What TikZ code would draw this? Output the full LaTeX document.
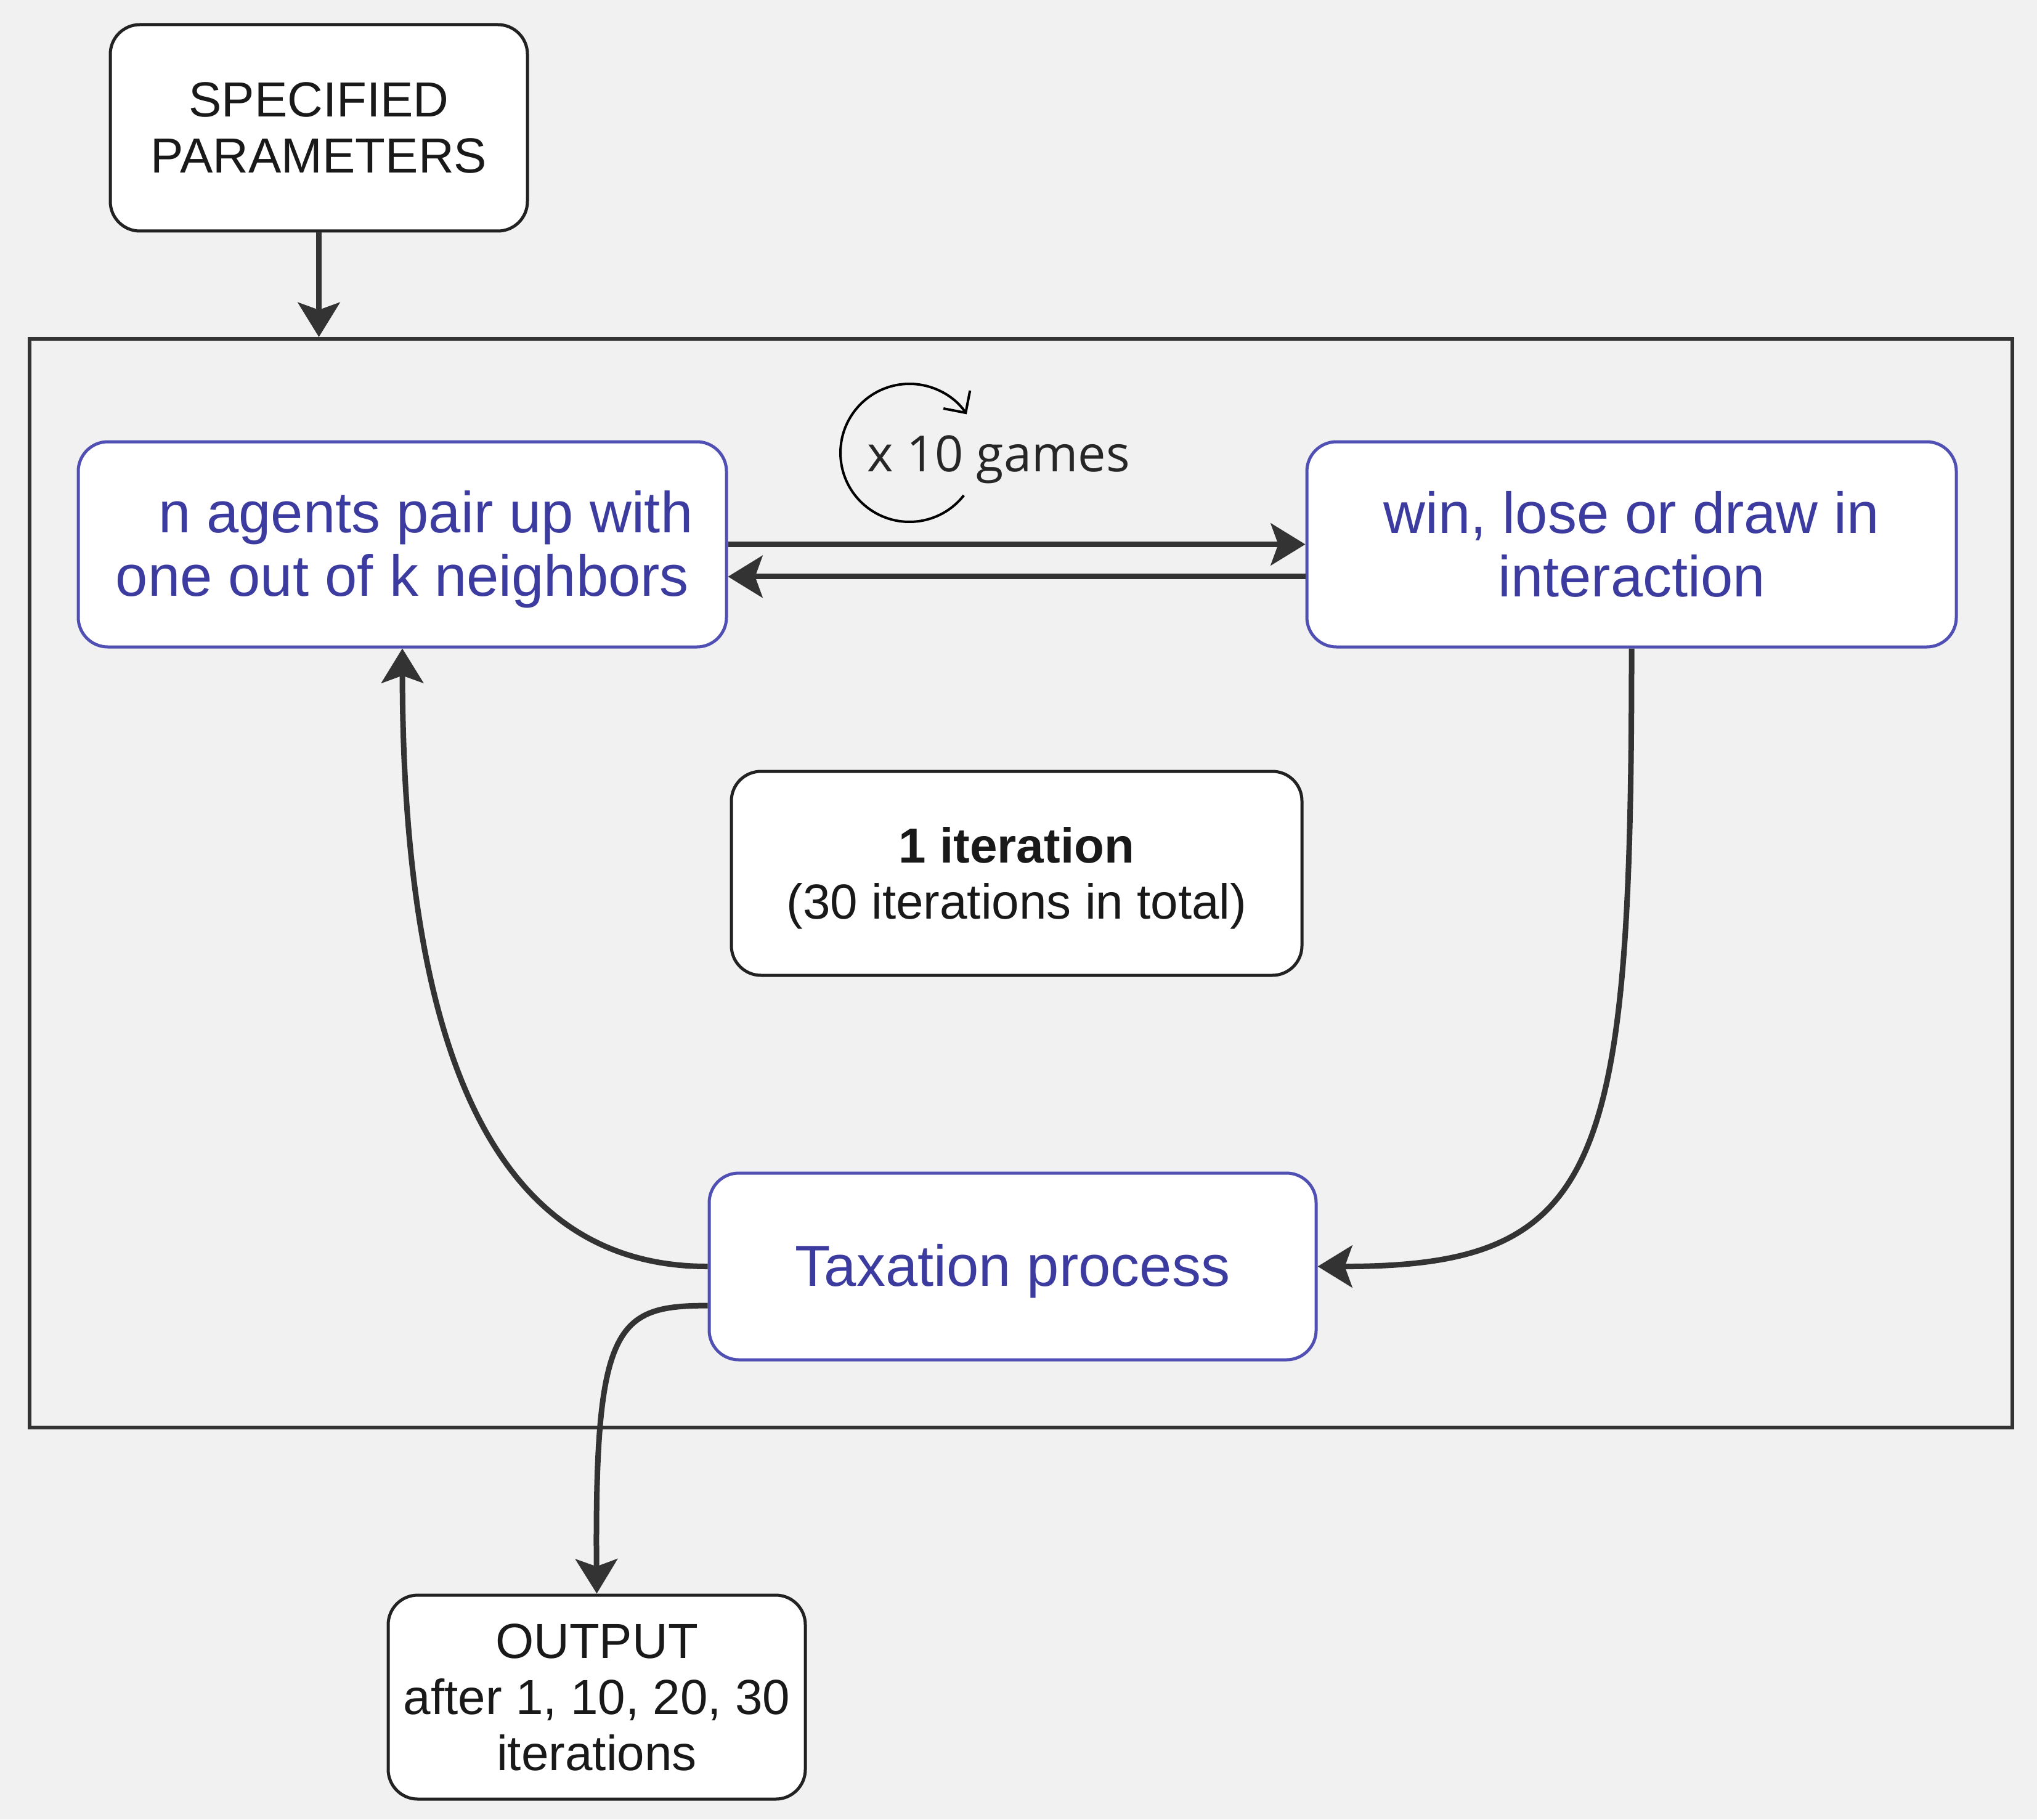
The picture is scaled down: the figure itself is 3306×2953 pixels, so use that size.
\documentclass[tikz,border=0pt]{standalone}
\usepackage{fontspec}
\setmainfont{Liberation Sans}
\newfontfamily\opensans{Open Sans}
\usetikzlibrary{arrows.meta}
\definecolor{bgc}{HTML}{F1F1F1}
\definecolor{bluetxt}{HTML}{3C3CA0}
\definecolor{blueln}{HTML}{5050B4}
\definecolor{arrc}{HTML}{333333}
\definecolor{boxln}{HTML}{222222}
\begin{document}
\begin{tikzpicture}[x=0.25pt,y=-0.25pt,
  bluebox/.style={draw=blueln, line width=1.25pt, fill=white, rounded corners=12pt, inner sep=0pt},
  bluetext/.style={inner sep=0pt, text=bluetxt, font=\fontsize{23.5}{25.75}\selectfont},
  blackbox/.style={draw=boxln, line width=1.25pt, fill=white, rounded corners=12pt, inner sep=0pt},
  blacktext/.style={inner sep=0pt, text=black!90, font=\fontsize{20}{22.75}\selectfont, align=center},
  framebox/.style={draw=arrc, line width=1.5pt, inner sep=0pt},
  arr/.style={draw=arrc, line width=2.25pt, -{Stealth[length=14pt,width=17pt,inset=3pt]}},
  loopln/.style={draw=black, line width=1pt, -{Straight Barb[length=6.5pt,width=13pt]}}
]
\fill[bgc] (0,0) rectangle (3306,2953);
\useasboundingbox (0,0) rectangle (3306,2953);

\node[framebox, minimum width=804.5pt, minimum height=441.75pt] (frame) at (1657,1433.5) {};

\node[blackbox, minimum width=169.25pt, minimum height=83.75pt] (spec) at (517.5,207.5) {};
\node[blacktext] (specT) at (spec.center) {SPECIFIED\\PARAMETERS};

\node[bluebox, minimum width=263pt, minimum height=83.25pt] (agents) at (653,883.5) {};
\node[bluetext, align=right] (agentsT) at ([yshift=-2pt]agents.center) {n agents pair up with\hspace*{-1.6pt}\\one out of k neighbors};

\node[bluebox, minimum width=263.5pt, minimum height=83.25pt] (win) at (2648,883.5) {};
\node[bluetext, align=center] (winT) at (win.center) {win, lose or draw in\\interaction};

\node[blackbox, minimum width=231.5pt, minimum height=82.75pt] (iter) at (1650,1417.5) {};
\node[blacktext] (iterT) at ([yshift=-2pt]iter.center) {\textbf{1 iteration}\\(30 iterations in total)};

\node[bluebox, minimum width=246.25pt, minimum height=75.75pt] (tax) at (1643.5,2055.5) {};
\node[bluetext] (taxT) at ([yshift=-2pt]tax.center) {Taxation process};

\node[blackbox, minimum width=169.25pt, minimum height=82.75pt] (out) at (968.5,2754.5) {};
\node[blacktext] (outT) at (out.center) {OUTPUT\\after 1, 10, 20, 30\\iterations};

% loop icon
\coordinate (loopc) at (1476,735);
\draw[loopln] (loopc) ++(38:112) arc[start angle=38, end angle=326, radius=112];
\node[font=\opensans\fontsize{20.25}{24}\selectfont, text=black!85, anchor=base west, inner sep=0pt] (games) at (1407,765) {x 10 games};

% connectors
\draw[arr] (spec.south) -- (spec.south |- frame.north);
\draw[arr] (agents.east) -- (win.west);
\draw[arr] ([yshift=-13.1pt]win.west) -- ([yshift=-13.1pt]agents.east);
\draw[arr] (win.south) .. controls (2648,1900) and (2600,2056) .. (tax.east);
\draw[arr] (tax.west) .. controls (800,2056) and (654,1700) .. (agents.south);
\draw[arr] ([yshift=-15.9pt]tax.west) .. controls (1000,2119) and (965,2150) .. (out.north);
\end{tikzpicture}
\end{document}
